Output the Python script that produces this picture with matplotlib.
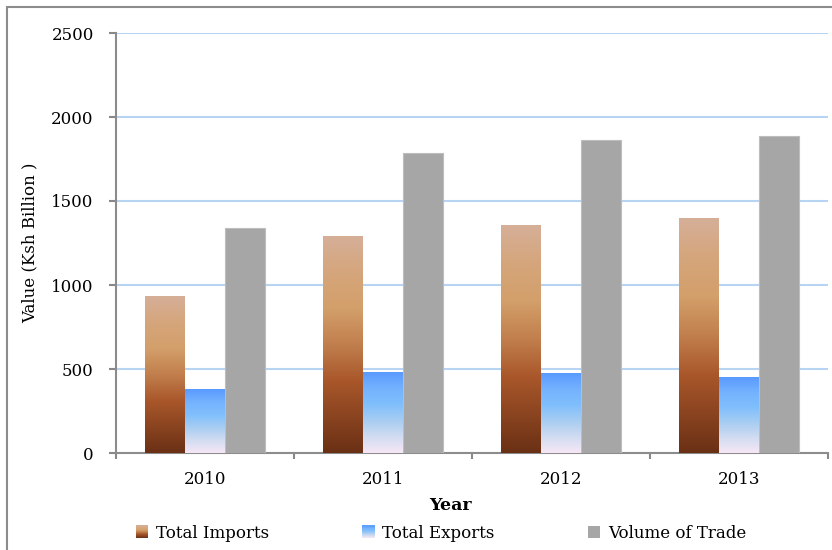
import numpy as np
import matplotlib
matplotlib.use("Agg")
import matplotlib.pyplot as plt
from matplotlib.colors import LinearSegmentedColormap
from matplotlib.legend_handler import HandlerBase
from matplotlib.patches import Rectangle

years = ["2010", "2011", "2012", "2013"]
imports = [932, 1287, 1357, 1398]
exports = [377, 477, 471, 448]
volume = [1342, 1786, 1865, 1887]
yticks = [0, 500, 1000, 1500, 2000, 2500]

plt.rcParams['font.family'] = ['DejaVu Serif']
plt.rcParams['font.size'] = 12

# gradients (top -> bottom)
imp_cmap = LinearSegmentedColormap.from_list(
    "imp", ["#D6AF98", "#D5A67C", "#D39F6A", "#C17F4D", "#A9572A", "#8A4420", "#6A3015"])
exp_cmap = LinearSegmentedColormap.from_list(
    "exp", ["#5A9AFF", "#74B2FE", "#80BFFC", "#A8CDF2", "#D2DCF1", "#F6E7F6"])
grey = "#A6A6A6"

fig = plt.figure(figsize=(8.32, 5.5), dpi=100)
ax = fig.add_axes([116 / 832, 1 - 453 / 550, (828 - 116) / 832, (453 - 33) / 550])

x = np.arange(len(years))
w = 0.223
b1 = ax.bar(x - w, imports, w, facecolor="none", edgecolor="none", zorder=3)
b2 = ax.bar(x, exports, w, facecolor="none", edgecolor="none", zorder=3)
b3 = ax.bar(x + w, volume, w, color=grey, edgecolor="#BDBDBD", linewidth=0.8, zorder=3)

grad = np.linspace(0, 1, 256).reshape(-1, 1)
for bars, cmap in [(b1, imp_cmap), (b2, exp_cmap)]:
    for r in bars:
        x0, y0 = r.get_x(), r.get_y()
        ax.imshow(grad, cmap=cmap, aspect="auto", origin="upper",
                  extent=[x0, x0 + r.get_width(), y0, y0 + r.get_height()],
                  zorder=3, interpolation="bilinear")

ax.set_xlim(-0.5, len(years) - 0.5)
ax.set_ylim(0, 2500)
ax.set_yticks(yticks)
ax.set_xticks(x)
ax.set_xticklabels(years)
ax.set_xticks(np.arange(-0.5, len(years)), minor=True)
ax.tick_params(axis="x", which="major", length=0, pad=13)
ax.tick_params(axis="x", which="minor", length=4, width=1.5, color="#888888", direction="out")
ax.tick_params(axis="y", length=5, width=1.5, color="#888888", pad=11)

for s in ["top", "right"]:
    ax.spines[s].set_visible(False)
for s in ["left", "bottom"]:
    ax.spines[s].set_color("#8C8C8C")
    ax.spines[s].set_linewidth(1.5)
ax.grid(axis="y", color="#B8D4F3", linewidth=1.5, zorder=0)
ax.set_axisbelow(True)

ax.set_ylabel("Value (Ksh Billion )", labelpad=9)
fig.text(450 / 832, 1 - 505 / 550, "Year", ha="center", va="center",
         fontweight="bold", fontsize=12.5)


class HandlerGradient(HandlerBase):
    def __init__(self, cmap):
        super().__init__()
        self.cmap = cmap

    def create_artists(self, legend, orig_handle, xdescent, ydescent,
                       width, height, fontsize, trans):
        n = 12
        arts = []
        for i in range(n):
            c = self.cmap(1 - (i + 0.5) / n)
            arts.append(Rectangle((-xdescent, -ydescent + height * i / n), width, height / n + 0.3,
                                  facecolor=c, edgecolor="none", transform=trans))
        return arts


h1 = Rectangle((0, 0), 1, 1)
h2 = Rectangle((0, 0), 1, 1)
h3 = Rectangle((0, 0), 1, 1, facecolor=grey)
fig.legend([h1, h2, h3], ["Total Imports", "Total Exports", "Volume of Trade"],
           loc="center", bbox_to_anchor=(441 / 832, 1 - 533 / 550), ncol=3, frameon=False,
           handlelength=0.75, handleheight=0.75, handletextpad=0.45, columnspacing=5.6,
           handler_map={h1: HandlerGradient(imp_cmap), h2: HandlerGradient(exp_cmap)})

# outer chart border
fig.patches.append(Rectangle((7 / 832, -0.1), 1.2, 1 - 7 / 550 + 0.1, transform=fig.transFigure,
                             facecolor="none", edgecolor="#8C8C8C", linewidth=1.5))

fig.savefig("out.png", dpi=100)
